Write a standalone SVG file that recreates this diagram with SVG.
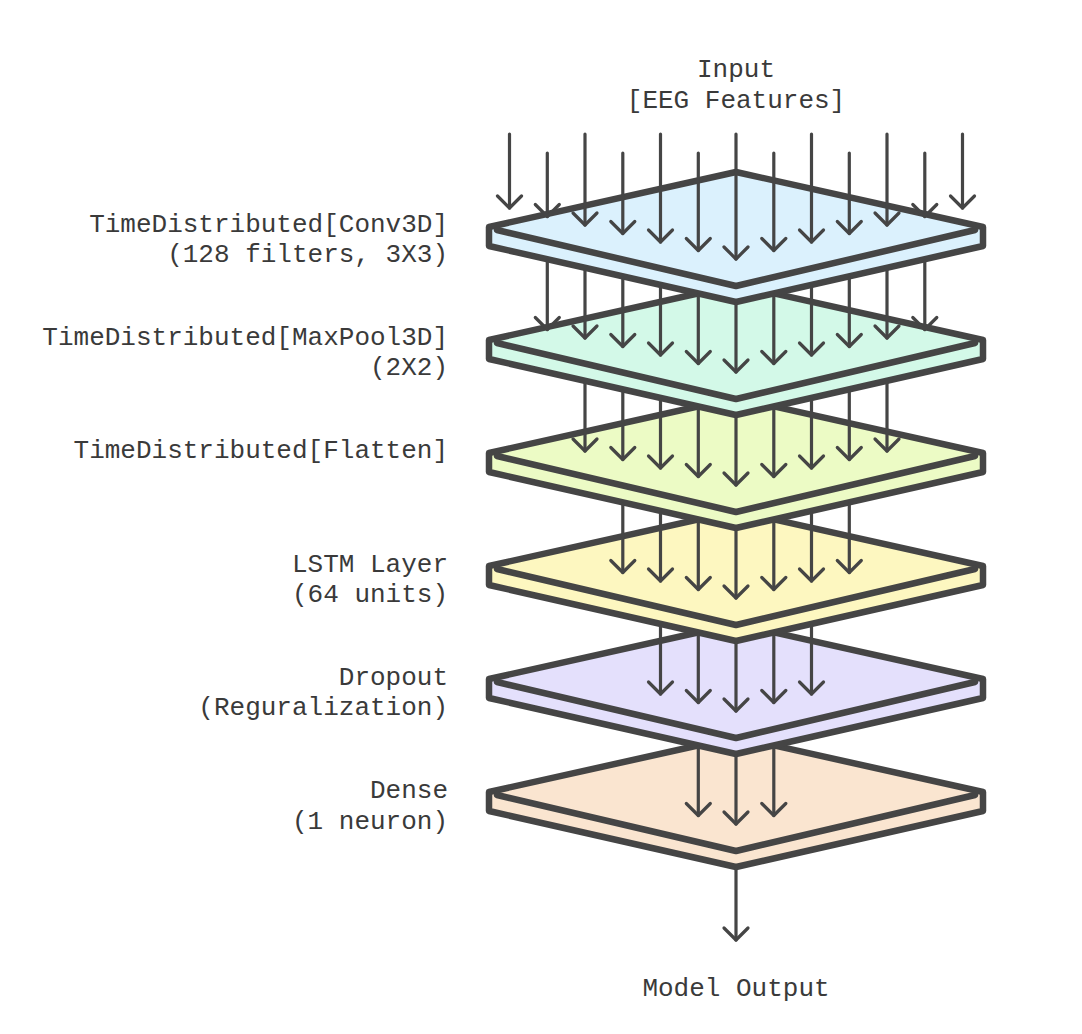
<svg xmlns="http://www.w3.org/2000/svg" width="1082" height="1034" viewBox="0 0 1082 1034">
<style>
.slab{stroke:#454545;stroke-width:6.5;stroke-linejoin:round}
.edge{fill:none;stroke:#454545;stroke-width:6.5;stroke-linejoin:round;stroke-linecap:round}
.lbl{font-family:"Liberation Mono","Courier New",monospace;font-size:26px;fill:#3a3a3a;text-anchor:end}
.ctr{font-family:"Liberation Mono","Courier New",monospace;font-size:26px;fill:#3a3a3a;text-anchor:middle}
.arr{stroke:#454545;stroke-width:3.2;stroke-linecap:round;fill:none;marker-end:url(#head)}
</style>
<defs>
<marker id="head" viewBox="-16 -16 32 32" markerWidth="32" markerHeight="32" refX="0" refY="0" orient="auto" markerUnits="userSpaceOnUse">
<path d="M-12,-12 L0,0 L-12,12" fill="none" stroke="#454545" stroke-width="3.2" stroke-linecap="round" stroke-linejoin="round"/>
</marker>
<path id="outer" d="M489,-3 L736,-58 L983,-3 L983,16 L736,72 L489,16 Z"/>
<path id="front" d="M497,0 L736,56 L975,0"/>
</defs>
<rect width="1082" height="1034" fill="#fff"/>

<g id="title">
<text class="ctr" x="736" y="77">Input</text>
<text class="ctr" x="736" y="108">[EEG Features]</text>
</g>

<g id="dense" transform="translate(0,795)">
<use href="#outer" class="slab" fill="#fae5d0"/>
<use href="#front" class="edge"/>
<text class="lbl" x="448" y="3">Dense</text>
<text class="lbl" x="448" y="34">(1 neuron)</text>
</g>
<g id="dropout" transform="translate(0,682)">
<use href="#outer" class="slab" fill="#e4e0fc"/>
<use href="#front" class="edge"/>
<text class="lbl" x="448" y="3">Dropout</text>
<text class="lbl" x="448" y="33">(Reguralization)</text>
</g>
<g id="lstm" transform="translate(0,569)">
<use href="#outer" class="slab" fill="#fdf7c0"/>
<use href="#front" class="edge"/>
<text class="lbl" x="448" y="3">LSTM Layer</text>
<text class="lbl" x="448" y="33">(64 units)</text>
</g>
<g id="flatten" transform="translate(0,456)">
<use href="#outer" class="slab" fill="#ecfbc5"/>
<use href="#front" class="edge"/>
<text class="lbl" x="448" y="2">TimeDistributed[Flatten]</text>
</g>
<g id="maxpool" transform="translate(0,343)">
<use href="#outer" class="slab" fill="#d3f9e8"/>
<use href="#front" class="edge"/>
<text class="lbl" x="448" y="2">TimeDistributed[MaxPool3D]</text>
<text class="lbl" x="448" y="32">(2X2)</text>
</g>
<g id="conv3d" transform="translate(0,230)">
<use href="#outer" class="slab" fill="#dbf1fd"/>
<use href="#front" class="edge"/>
<text class="lbl" x="448" y="2">TimeDistributed[Conv3D]</text>
<text class="lbl" x="448" y="32">(128 filters, 3X3)</text>
</g>

<g id="output">
<text class="ctr" x="736" y="996">Model Output</text>
</g>

<g id="connectors">
<line class="arr" x1="509.5" y1="134" x2="509.5" y2="208"/>
<line class="arr" x1="547.3" y1="153" x2="547.3" y2="216.5"/>
<line class="arr" x1="585" y1="134" x2="585" y2="225"/>
<line class="arr" x1="622.8" y1="153" x2="622.8" y2="233.5"/>
<line class="arr" x1="660.5" y1="134" x2="660.5" y2="242"/>
<line class="arr" x1="698.3" y1="153" x2="698.3" y2="250.5"/>
<line class="arr" x1="736" y1="134" x2="736" y2="259"/>
<line class="arr" x1="773.8" y1="153" x2="773.8" y2="250.5"/>
<line class="arr" x1="811.5" y1="134" x2="811.5" y2="242"/>
<line class="arr" x1="849.3" y1="153" x2="849.3" y2="233.5"/>
<line class="arr" x1="887" y1="134" x2="887" y2="225"/>
<line class="arr" x1="924.8" y1="153" x2="924.8" y2="216.5"/>
<line class="arr" x1="962.5" y1="134" x2="962.5" y2="208"/>

<line class="arr" x1="547.3" y1="261" x2="547.3" y2="329.5"/>
<line class="arr" x1="585" y1="269.5" x2="585" y2="338"/>
<line class="arr" x1="622.8" y1="278" x2="622.8" y2="346.5"/>
<line class="arr" x1="660.5" y1="286.5" x2="660.5" y2="355"/>
<line class="arr" x1="698.3" y1="295" x2="698.3" y2="363.5"/>
<line class="arr" x1="736" y1="304" x2="736" y2="372"/>
<line class="arr" x1="773.8" y1="295" x2="773.8" y2="363.5"/>
<line class="arr" x1="811.5" y1="286.5" x2="811.5" y2="355"/>
<line class="arr" x1="849.3" y1="278" x2="849.3" y2="346.5"/>
<line class="arr" x1="887" y1="269.5" x2="887" y2="338"/>
<line class="arr" x1="924.8" y1="261" x2="924.8" y2="329.5"/>

<line class="arr" x1="585" y1="382.5" x2="585" y2="451"/>
<line class="arr" x1="622.8" y1="391" x2="622.8" y2="459.5"/>
<line class="arr" x1="660.5" y1="399.5" x2="660.5" y2="468"/>
<line class="arr" x1="698.3" y1="408" x2="698.3" y2="476.5"/>
<line class="arr" x1="736" y1="417" x2="736" y2="485"/>
<line class="arr" x1="773.8" y1="408" x2="773.8" y2="476.5"/>
<line class="arr" x1="811.5" y1="399.5" x2="811.5" y2="468"/>
<line class="arr" x1="849.3" y1="391" x2="849.3" y2="459.5"/>
<line class="arr" x1="887" y1="382.5" x2="887" y2="451"/>

<line class="arr" x1="622.8" y1="504" x2="622.8" y2="572.5"/>
<line class="arr" x1="660.5" y1="512.5" x2="660.5" y2="581"/>
<line class="arr" x1="698.3" y1="521" x2="698.3" y2="589.5"/>
<line class="arr" x1="736" y1="530" x2="736" y2="598"/>
<line class="arr" x1="773.8" y1="521" x2="773.8" y2="589.5"/>
<line class="arr" x1="811.5" y1="512.5" x2="811.5" y2="581"/>
<line class="arr" x1="849.3" y1="504" x2="849.3" y2="572.5"/>

<line class="arr" x1="660.5" y1="625.5" x2="660.5" y2="694"/>
<line class="arr" x1="698.3" y1="634" x2="698.3" y2="702.5"/>
<line class="arr" x1="736" y1="643" x2="736" y2="711"/>
<line class="arr" x1="773.8" y1="634" x2="773.8" y2="702.5"/>
<line class="arr" x1="811.5" y1="625.5" x2="811.5" y2="694"/>

<line class="arr" x1="698.3" y1="747" x2="698.3" y2="815.5"/>
<line class="arr" x1="736" y1="756" x2="736" y2="824"/>
<line class="arr" x1="773.8" y1="747" x2="773.8" y2="815.5"/>

<line class="arr" x1="736" y1="869" x2="736" y2="940"/>
</g>
</svg>
